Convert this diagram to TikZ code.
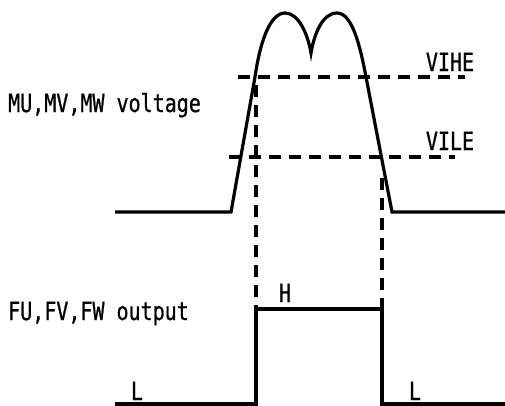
\documentclass[tikz,border=0pt]{standalone}
\usepackage{fontspec}
\newfontfamily\gothic[FakeStretch=0.8,FakeBold=0.8]{DejaVu Sans Mono}
\begin{document}
\begin{tikzpicture}[x=1pt,y=-1pt,
  wave/.style={line width=3.2pt,line join=miter},
  guide/.style={line width=3.2pt,dash pattern=on 12pt off 8pt},
  lbl/.style={inner sep=0pt,font=\gothic\fontsize{25}{25}\selectfont}]
\useasboundingbox (0,0) rectangle (505,405);
% top waveform
\coordinate (t0) at (115,212);
\coordinate (t1) at (231,212);
\coordinate (t2) at (255,77);
\coordinate (p1) at (285,13);
\coordinate (dip) at (311,53);
\coordinate (p2) at (337,13);
\coordinate (t3) at (366,77);
\coordinate (t4) at (392,212);
\coordinate (t5) at (505,212);
\draw[wave] (t0) -- (t1) -- (t2)
  .. controls (260,42) and (270,13) .. (p1)
  .. controls (299,13) and (308,35) .. (dip)
  .. controls (314,35) and (322,13) .. (p2)
  .. controls (352,13) and (360,45) .. (t3)
  -- (t4) -- (t5);
% threshold lines
\coordinate (he0) at (238,77);
\coordinate (he1) at (465,77);
\coordinate (le0) at (229,157);
\coordinate (le1) at (455,157);
\draw[guide] (he0) -- (he1);
\draw[guide] (le0) -- (le1);
% bottom waveform
\coordinate (b0) at (115,404);
\coordinate (b1) at (256,404);
\coordinate (b2) at (256,309);
\coordinate (b3) at (382,309);
\coordinate (b4) at (382,404);
\coordinate (b5) at (505,404);
\draw[wave] (b0) -- (b1) -- (b2) -- (b3) -- (b4) -- (b5);
% vertical dashed
\coordinate (v1) at (256,85);
\coordinate (v2) at (382,178);
\draw[guide] (v1) -- (b2);
\draw[guide] (v2) -- (b3);
% labels
\node[lbl,anchor=base west] (mv) at (8,112) {MU,MV,MW voltage};
\node[lbl,anchor=base west] (fo) at (8,320) {FU,FV,FW output};
\node[lbl,anchor=base] (vihe) at (450,71) {VIHE};
\node[lbl,anchor=base] (vile) at (450,150) {VILE};
\node[lbl,anchor=base] (h) at (285,302) {H};
\node[lbl,anchor=base] (l1) at (137,400) {L};
\node[lbl,anchor=base] (l2) at (415,400) {L};
\end{tikzpicture}
\end{document}
